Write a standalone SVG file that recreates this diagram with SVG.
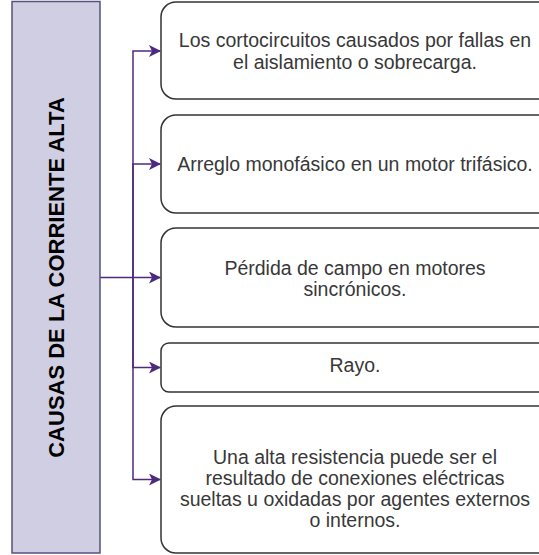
<svg xmlns="http://www.w3.org/2000/svg" width="539" height="555" viewBox="0 0 539 555">
<defs>
<style>
.box{fill:#ffffff;stroke:#333333;stroke-width:1.5}
.t{font-family:"Liberation Sans",Arial,sans-serif;font-size:19.5px;fill:#383838;text-anchor:middle}
.c{fill:none;stroke:#4b2a7f;stroke-width:1.5}
</style>
<marker id="ah" viewBox="0 0 12 12" refX="11" refY="6" markerWidth="12" markerHeight="12" markerUnits="userSpaceOnUse" orient="auto">
<path d="M0,0 L12,6 L0,12 L3,6 Z" fill="#4b2a7f"/>
</marker>
</defs>
<g id="connectors">
<path class="c" d="M100,277.5 H160" marker-end="url(#ah)"/>
<path class="c" d="M133,277.5 V51 H160" marker-end="url(#ah)"/>
<path class="c" d="M133,277.5 V164 H160" marker-end="url(#ah)"/>
<path class="c" d="M133,277.5 V367.5 H160" marker-end="url(#ah)"/>
<path class="c" d="M133,277.5 V479.5 H160" marker-end="url(#ah)"/>
</g>
<g id="title">
<rect x="12" y="1.5" width="88" height="551.5" fill="#d0cee2" stroke="#56517e" stroke-width="1.5"/>
<text transform="translate(63.5,277.5) rotate(-90)" font-family="Liberation Sans,Arial,sans-serif" font-size="22" font-weight="bold" fill="#000000" text-anchor="middle">CAUSAS DE LA CORRIENTE ALTA</text>
</g>
<g id="n1">
<rect class="box" x="161" y="2" width="392" height="97" rx="15"/>
<text class="t" x="355" y="46.5">Los cortocircuitos causados por fallas en</text>
<text class="t" x="355" y="68.5">el aislamiento o sobrecarga.</text>
</g>
<g id="n2">
<rect class="box" x="161" y="115" width="392" height="98" rx="15"/>
<text class="t" x="355" y="170.5">Arreglo monofásico en un motor trifásico.</text>
</g>
<g id="n3">
<rect class="box" x="161" y="228" width="392" height="99" rx="15"/>
<text class="t" x="355" y="274.5">Pérdida de campo en motores</text>
<text class="t" x="355" y="295.5">sincrónicos.</text>
</g>
<g id="n4">
<rect class="box" x="161" y="343" width="392" height="49" rx="8"/>
<text class="t" x="355" y="372">Rayo.</text>
</g>
<g id="n5">
<rect class="box" x="161" y="406" width="392" height="147" rx="15"/>
<text class="t" x="355" y="463.5">Una alta resistencia puede ser el</text>
<text class="t" x="355" y="484.5">resultado de conexiones eléctricas</text>
<text class="t" x="355" y="505.5">sueltas u oxidadas por agentes externos</text>
<text class="t" x="355" y="526.5">o internos.</text>
</g>
</svg>
